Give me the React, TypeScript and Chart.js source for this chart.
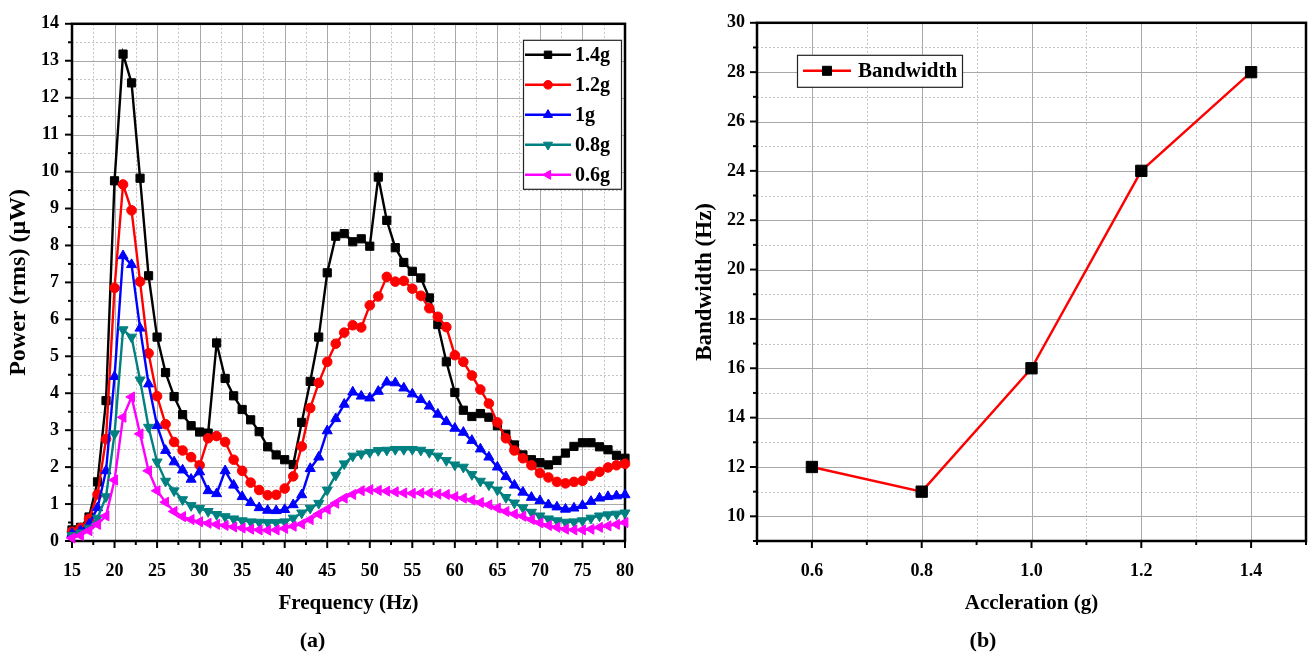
import React, { useEffect, useRef } from 'react';
import { Chart, registerables } from 'chart.js';

Chart.register(...registerables);

// ---------- Data: panel (a) ----------
const frequency = [15, 16, 17, 18, 19, 20, 21, 22, 23, 24, 25, 26, 27, 28, 29, 30, 31, 32, 33, 34, 35, 36, 37, 38, 39, 40, 41, 42, 43, 44, 45, 46, 47, 48, 49, 50, 51, 52, 53, 54, 55, 56, 57, 58, 59, 60, 61, 62, 63, 64, 65, 66, 67, 68, 69, 70, 71, 72, 73, 74, 75, 76, 77, 78, 79, 80];

const power14g = [0.30, 0.37, 0.65, 1.60, 3.80, 9.75, 13.18, 12.40, 9.82, 7.18, 5.52, 4.56, 3.91, 3.42, 3.12, 2.95, 2.92, 5.36, 4.40, 3.93, 3.56, 3.28, 2.96, 2.55, 2.33, 2.20, 2.07, 3.21, 4.32, 5.52, 7.26, 8.25, 8.32, 8.10, 8.18, 7.98, 9.85, 8.68, 7.94, 7.54, 7.30, 7.12, 6.58, 5.86, 4.85, 4.02, 3.54, 3.37, 3.45, 3.35, 3.12, 2.89, 2.60, 2.33, 2.20, 2.12, 2.06, 2.18, 2.38, 2.56, 2.66, 2.66, 2.55, 2.47, 2.32, 2.24];
const power12g = [0.25, 0.35, 0.60, 1.26, 2.76, 6.85, 9.65, 8.95, 7.02, 5.08, 3.92, 3.16, 2.68, 2.45, 2.27, 2.05, 2.78, 2.84, 2.68, 2.20, 1.90, 1.58, 1.38, 1.24, 1.25, 1.42, 1.75, 2.56, 3.60, 4.28, 4.85, 5.34, 5.64, 5.84, 5.78, 6.38, 6.62, 7.15, 7.02, 7.04, 6.83, 6.64, 6.30, 6.07, 5.79, 5.03, 4.85, 4.48, 4.10, 3.72, 3.21, 2.78, 2.45, 2.24, 2.05, 1.84, 1.72, 1.60, 1.56, 1.60, 1.63, 1.76, 1.87, 1.99, 2.05, 2.09];
const power10g = [0.20, 0.28, 0.45, 0.90, 1.90, 4.45, 7.72, 7.48, 5.76, 4.25, 3.12, 2.45, 2.14, 1.92, 1.67, 1.87, 1.36, 1.28, 1.90, 1.51, 1.20, 1.04, 0.90, 0.83, 0.82, 0.85, 0.98, 1.25, 1.96, 2.27, 2.98, 3.31, 3.70, 4.03, 3.92, 3.87, 4.05, 4.30, 4.28, 4.14, 3.98, 3.83, 3.65, 3.43, 3.23, 3.05, 2.94, 2.72, 2.49, 2.27, 2.00, 1.74, 1.51, 1.32, 1.18, 1.09, 0.98, 0.92, 0.86, 0.89, 0.96, 1.07, 1.16, 1.20, 1.22, 1.25];
const power08g = [0.15, 0.22, 0.35, 0.62, 1.20, 2.90, 5.72, 5.52, 4.36, 3.08, 2.14, 1.62, 1.36, 1.12, 0.96, 0.88, 0.80, 0.72, 0.66, 0.60, 0.55, 0.52, 0.51, 0.50, 0.50, 0.52, 0.62, 0.76, 0.89, 1.02, 1.38, 1.78, 2.09, 2.30, 2.36, 2.40, 2.45, 2.46, 2.48, 2.48, 2.48, 2.46, 2.40, 2.30, 2.18, 2.06, 2.00, 1.80, 1.62, 1.52, 1.38, 1.18, 1.03, 0.90, 0.78, 0.68, 0.60, 0.55, 0.51, 0.52, 0.55, 0.62, 0.68, 0.71, 0.73, 0.76];
const power06g = [0.08, 0.15, 0.28, 0.45, 0.68, 1.65, 3.35, 3.90, 2.90, 1.90, 1.36, 1.05, 0.80, 0.66, 0.58, 0.52, 0.48, 0.45, 0.42, 0.38, 0.35, 0.32, 0.30, 0.29, 0.30, 0.34, 0.40, 0.46, 0.58, 0.73, 0.86, 1.02, 1.16, 1.26, 1.36, 1.39, 1.37, 1.35, 1.33, 1.30, 1.29, 1.30, 1.30, 1.27, 1.26, 1.20, 1.16, 1.11, 1.04, 0.98, 0.89, 0.80, 0.73, 0.67, 0.58, 0.49, 0.42, 0.37, 0.32, 0.30, 0.30, 0.32, 0.37, 0.41, 0.45, 0.50];

const seriesLabels = ['1.4g', '1.2g', '1g', '0.8g', '0.6g'];
const freqTicks = [15, 20, 25, 30, 35, 40, 45, 50, 55, 60, 65, 70, 75, 80];
const powerTicks = [0, 1, 2, 3, 4, 5, 6, 7, 8, 9, 10, 11, 12, 13, 14];

// ---------- Data: panel (b) ----------
const acceleration = [0.6, 0.8, 1.0, 1.2, 1.4];
const bandwidth = [12, 11, 16, 24, 28];
const accelTicks = [0.6, 0.8, 1.0, 1.2, 1.4];
const bandwidthTicks = [10, 12, 14, 16, 18, 20, 22, 24, 26, 28, 30];

const FONT = "'Liberation Serif', 'Times New Roman', serif";

type Marker = { style: string; rotation: number; radius: number; color: string };

function drawMarker(ctx: CanvasRenderingContext2D, m: Marker, x: number, y: number, r: number) {
  ctx.save();
  ctx.fillStyle = m.color;
  ctx.strokeStyle = m.color;
  ctx.lineWidth = 1;
  ctx.beginPath();
  if (m.style === 'rect') {
    const s = r * Math.SQRT1_2;
    ctx.rect(x - s, y - s, 2 * s, 2 * s);
  } else if (m.style === 'circle') {
    ctx.arc(x, y, r, 0, Math.PI * 2);
  } else {
    let rad = (m.rotation * Math.PI) / 180;
    ctx.moveTo(x + Math.sin(rad) * r, y - Math.cos(rad) * r);
    rad += (2 * Math.PI) / 3;
    ctx.lineTo(x + Math.sin(rad) * r, y - Math.cos(rad) * r);
    rad += (2 * Math.PI) / 3;
    ctx.lineTo(x + Math.sin(rad) * r, y - Math.cos(rad) * r);
    ctx.closePath();
  }
  ctx.fill();
  ctx.stroke();
  ctx.restore();
}

function halfSteps(ticks: number[], min: number, max: number) {
  const step = ticks[1] - ticks[0];
  const out: number[] = [];
  ticks.forEach((t) => out.push(t - step / 2));
  out.push(ticks[ticks.length - 1] + step / 2);
  return out.filter((v) => v > min - 1e-9 && v < max + 1e-9);
}

// Origin-style frame: dotted minor grid, solid major grid, boxed axes, outward ticks
const framePlugin = {
  id: 'originFrame',
  beforeDatasetsDraw(chart: any, _args: any, opts: any) {
    const { ctx, chartArea: a, scales } = chart;
    const xs = scales.x;
    const ys = scales.y;
    const xMaj: number[] = opts.xMajor;
    const yMaj: number[] = opts.yMajor;
    const xMin = halfSteps(xMaj, xs.min, xs.max);
    const yMin = halfSteps(yMaj, ys.min, ys.max);
    ctx.save();
    ctx.lineWidth = 1;
    ctx.strokeStyle = '#c4c4c4';
    ctx.setLineDash([2, 2]);
    xMin.forEach((v) => {
      const px = Math.round(xs.getPixelForValue(v)) + 0.5;
      ctx.beginPath(); ctx.moveTo(px, a.top); ctx.lineTo(px, a.bottom); ctx.stroke();
    });
    yMin.forEach((v) => {
      const py = Math.round(ys.getPixelForValue(v)) + 0.5;
      ctx.beginPath(); ctx.moveTo(a.left, py); ctx.lineTo(a.right, py); ctx.stroke();
    });
    ctx.setLineDash([]);
    ctx.strokeStyle = '#a8a8a8';
    xMaj.forEach((v) => {
      const px = Math.round(xs.getPixelForValue(v)) + 0.5;
      ctx.beginPath(); ctx.moveTo(px, a.top); ctx.lineTo(px, a.bottom); ctx.stroke();
    });
    yMaj.forEach((v) => {
      const py = Math.round(ys.getPixelForValue(v)) + 0.5;
      ctx.beginPath(); ctx.moveTo(a.left, py); ctx.lineTo(a.right, py); ctx.stroke();
    });
    // frame
    ctx.strokeStyle = '#000';
    ctx.lineWidth = 2.5;
    ctx.strokeRect(a.left, a.top, a.right - a.left, a.bottom - a.top);
    // ticks (outward on left & bottom)
    ctx.lineWidth = 2;
    const tick = (v: number, len: number, horiz: boolean) => {
      if (horiz) {
        const px = xs.getPixelForValue(v);
        ctx.beginPath(); ctx.moveTo(px, a.bottom); ctx.lineTo(px, a.bottom + len); ctx.stroke();
      } else {
        const py = ys.getPixelForValue(v);
        ctx.beginPath(); ctx.moveTo(a.left, py); ctx.lineTo(a.left - len, py); ctx.stroke();
      }
    };
    xMaj.forEach((v) => tick(v, 7, true));
    xMin.forEach((v) => tick(v, 4, true));
    yMaj.forEach((v) => tick(v, 7, false));
    yMin.forEach((v) => tick(v, 4, false));
    ctx.restore();
  },
};

// Boxed legend with line + marker samples
const boxLegendPlugin = {
  id: 'boxLegend',
  afterDraw(chart: any, _args: any, opts: any) {
    const { ctx, chartArea: a } = chart;
    const items = chart.data.datasets.map((d: any) => ({
      label: d.label,
      color: d.borderColor,
      marker: { style: d.pointStyle, rotation: d.pointRotation || 0, radius: d.pointRadius, color: d.pointBackgroundColor } as Marker,
    }));
    const bx = opts.anchor === 'right' ? a.right - opts.dx - opts.width : a.left + opts.dx;
    const by = a.top + opts.dy;
    const h = opts.firstRow + opts.rowGap * (items.length - 1) + opts.lastPad;
    ctx.save();
    ctx.fillStyle = '#fff';
    ctx.fillRect(bx, by, opts.width, h);
    ctx.strokeStyle = '#222';
    ctx.lineWidth = 1.2;
    ctx.strokeRect(bx + 0.5, by + 0.5, opts.width, h);
    items.forEach((it: any, i: number) => {
      const cy = by + opts.firstRow + opts.rowGap * i;
      ctx.strokeStyle = it.color;
      ctx.lineWidth = 2.5;
      ctx.beginPath();
      ctx.moveTo(bx + opts.lineStart, cy);
      ctx.lineTo(bx + opts.lineEnd, cy);
      ctx.stroke();
      drawMarker(ctx, it.marker, bx + (opts.lineStart + opts.lineEnd) / 2, cy, it.marker.radius * opts.markerScale);
      ctx.fillStyle = '#000';
      ctx.font = `bold ${opts.fontSize}px ${FONT}`;
      ctx.textBaseline = 'middle';
      ctx.textAlign = 'left';
      ctx.fillText(it.label, bx + opts.textX, cy + 1);
    });
    ctx.restore();
  },
};

const tickFont = { family: FONT, size: 18, weight: 'bold' as const };
const titleFont = { family: FONT, size: 21, weight: 'bold' as const };
// hidden tick marks only reserve the gap between the frame and the labels
const xGrid = { display: false, drawTicks: true, tickLength: 18 };
const fitX = (s: any) => { s.height = 87.6; s.paddingLeft = 0; s.paddingRight = 0; };

function PanelA() {
  const ref = useRef<HTMLCanvasElement | null>(null);
  useEffect(() => {
    if (!ref.current) return;
    const values = [power14g, power12g, power10g, power08g, power06g];
    const colors = ['#000000', '#ff0000', '#0000ff', '#008080', '#ff00ff'];
    const styles = ['rect', 'circle', 'triangle', 'triangle', 'triangle'];
    const rotations = [0, 0, 0, 180, 270];
    const radii = [5.8, 4.8, 5.8, 5.8, 5.8];
    const chart = new Chart(ref.current, {
      type: 'line',
      data: {
        datasets: values.map((vals, k) => ({
          label: seriesLabels[k],
          data: frequency.map((f, i) => ({ x: f, y: vals[i] })),
          borderColor: colors[k],
          backgroundColor: colors[k],
          pointBackgroundColor: colors[k],
          pointBorderColor: colors[k],
          pointStyle: styles[k] as any,
          pointRotation: rotations[k],
          pointRadius: radii[k],
          pointBorderWidth: 1,
          borderWidth: 2.4,
          tension: 0,
          clip: false as any,
          order: values.length - k,
        })),
      },
      options: {
        animation: false,
        responsive: false,
        events: [],
        layout: { padding: { left: 0, top: 17, right: 30, bottom: 0 } },
        plugins: {
          legend: { display: false },
          tooltip: { enabled: false },
          title: {
            display: true,
            text: '(a)',
            position: 'bottom',
            color: '#000',
            font: { family: FONT, size: 22, weight: 'bold' },
            padding: { top: 0, bottom: 6 },
          },
          originFrame: { xMajor: freqTicks, yMajor: powerTicks },
          boxLegend: {
            anchor: 'right', dx: 4, dy: 16, width: 98,
            firstRow: 15, rowGap: 30, lastPad: 14,
            lineStart: 2, lineEnd: 48, textX: 52, fontSize: 20, markerScale: 0.9,
          },
        } as any,
        scales: {
          x: {
            type: 'linear',
            min: 15,
            max: 80,
            afterBuildTicks: (s: any) => { s.ticks = freqTicks.map((v) => ({ value: v })); },
            afterFit: fitX,
            ticks: { font: tickFont, color: '#000', padding: 2, maxRotation: 0, autoSkip: false },
            grid: xGrid,
            border: { display: false },
            title: { display: true, text: 'Frequency (Hz)', color: '#000', font: titleFont, padding: { top: 0, bottom: 12.6 } },
          },
          y: {
            type: 'linear',
            min: 0,
            max: 14,
            afterBuildTicks: (s: any) => { s.ticks = powerTicks.map((v) => ({ value: v })); },
            afterFit: (s: any) => { s.width = 72; },
            ticks: { font: tickFont, color: '#000', padding: 13, autoSkip: false },
            grid: { display: false, drawTicks: false },
            border: { display: false },
            title: { display: true, text: 'Power (rms) (μW)', color: '#000', font: { family: FONT, size: 24, weight: 'bold' }, padding: { top: 4, bottom: 0 } },
          },
        },
      },
      plugins: [framePlugin, boxLegendPlugin],
    });
    return () => chart.destroy();
  }, []);
  return <canvas ref={ref} width={655} height={661} style={{ position: 'absolute', left: 0, top: 0, display: 'block' }} />;
}

function PanelB() {
  const ref = useRef<HTMLCanvasElement | null>(null);
  useEffect(() => {
    if (!ref.current) return;
    const chart = new Chart(ref.current, {
      type: 'line',
      data: {
        datasets: [
          {
            label: 'Bandwidth',
            data: acceleration.map((a, i) => ({ x: a, y: bandwidth[i] })),
            borderColor: '#ff0000',
            backgroundColor: '#000000',
            pointBackgroundColor: '#000000',
            pointBorderColor: '#000000',
            pointStyle: 'rect',
            pointRadius: 8,
            pointBorderWidth: 1,
            borderWidth: 2.4,
            tension: 0,
            clip: false as any,
          },
        ],
      },
      options: {
        animation: false,
        responsive: false,
        events: [],
        layout: { padding: { left: 0, top: 17, right: 4, bottom: 0 } },
        plugins: {
          legend: { display: false },
          tooltip: { enabled: false },
          title: {
            display: true,
            text: '(b)',
            position: 'bottom',
            color: '#000',
            font: { family: FONT, size: 22, weight: 'bold' },
            padding: { top: 0, bottom: 6 },
          },
          originFrame: { xMajor: accelTicks, yMajor: bandwidthTicks },
          boxLegend: {
            anchor: 'left', dx: 40, dy: 32, width: 165,
            firstRow: 16, rowGap: 0, lastPad: 16,
            lineStart: 6, lineEnd: 54, textX: 61, fontSize: 21, markerScale: 0.8,
          },
        } as any,
        scales: {
          x: {
            type: 'linear',
            min: 0.5,
            max: 1.5,
            afterBuildTicks: (s: any) => { s.ticks = accelTicks.map((v) => ({ value: v })); },
            afterFit: fitX,
            ticks: { font: tickFont, color: '#000', padding: 2, maxRotation: 0, autoSkip: false, callback: (v: any) => Number(v).toFixed(1) },
            grid: xGrid,
            border: { display: false },
            title: { display: true, text: 'Accleration (g)', color: '#000', font: titleFont, padding: { top: 0, bottom: 12.6 } },
          },
          y: {
            type: 'linear',
            min: 9,
            max: 30,
            afterBuildTicks: (s: any) => { s.ticks = bandwidthTicks.map((v) => ({ value: v })); },
            afterFit: (s: any) => { s.width = 102; },
            ticks: { font: tickFont, color: '#000', padding: 12, autoSkip: false },
            grid: { display: false, drawTicks: false },
            border: { display: false },
            title: { display: true, text: 'Bandwidth (Hz)', color: '#000', font: { family: FONT, size: 23, weight: 'bold' }, padding: { top: 36, bottom: 0 } },
          },
        },
      },
      plugins: [framePlugin, boxLegendPlugin],
    });
    return () => chart.destroy();
  }, []);
  return <canvas ref={ref} width={660} height={661} style={{ position: 'absolute', left: 655, top: 0, display: 'block' }} />;
}

export default function App() {
  return (
    <div style={{ position: 'fixed', left: 0, top: 0, width: 1315, height: 661, background: '#fff', overflow: 'hidden' }}>
      <PanelA />
      <PanelB />
    </div>
  );
}
